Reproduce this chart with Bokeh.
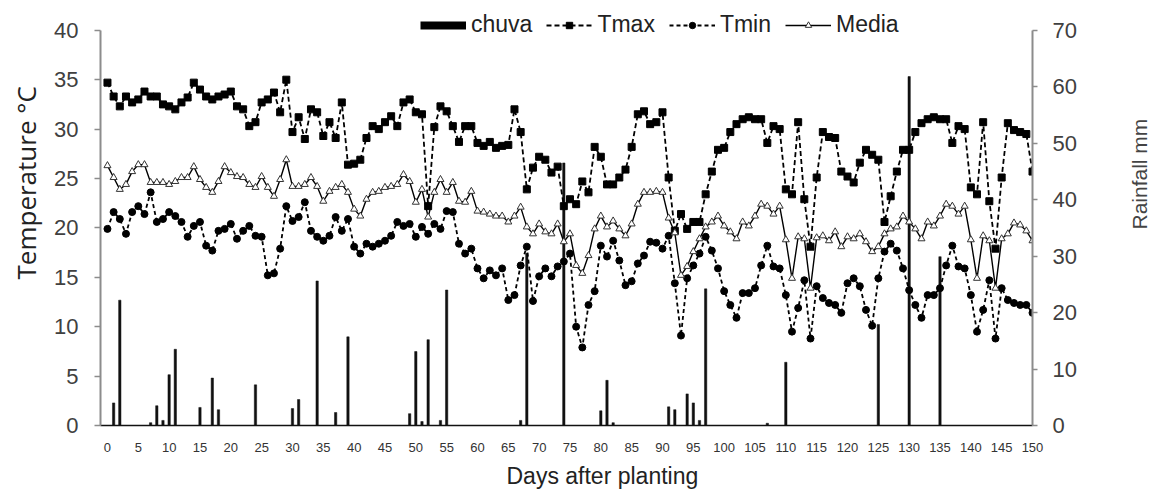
from bokeh.plotting import figure
from bokeh.layouts import row
from bokeh.models import (Range1d, LinearAxis, FixedTicker, Legend, LegendItem,
                          Title)
from bokeh.embed import file_html
from bokeh.resources import INLINE

# ---------------- data ----------------
days = list(range(151))

tmax = [34.7, 33.3, 32.3, 33.3, 32.7, 33.0, 33.8, 33.3, 33.3, 32.5,
        32.3, 32.0, 32.7, 33.2, 34.7, 34.0, 33.3, 33.0, 33.3, 33.5,
        33.8, 32.3, 32.0, 30.3, 30.7, 32.7, 33.0, 33.7, 31.7, 35.0,
        29.7, 31.2, 29.0, 32.0, 31.7, 29.3, 30.7, 29.1, 32.7, 26.4,
        26.5, 26.9, 29.1, 30.3, 30.0, 30.7, 31.3, 30.3, 32.7, 33.0,
        31.7, 31.5, 22.2, 30.2, 32.3, 31.8, 30.3, 28.7, 30.3, 30.3,
        28.6, 28.3, 28.7, 28.1, 28.3, 28.4, 32.0, 29.7, 23.9, 26.1,
        27.2, 26.9, 25.6, 26.2, 22.2, 22.9, 22.4, 24.7, 23.6, 28.2,
        27.2, 24.4, 24.4, 25.1, 25.9, 28.2, 31.5, 31.8, 30.5, 30.7,
        31.7, 25.1, 19.7, 21.4, 19.9, 20.6, 20.6, 23.4, 25.7, 27.9,
        28.1, 29.7, 30.5, 31.0, 31.2, 31.0, 31.0, 28.6, 30.3, 30.0,
        23.9, 23.4, 30.7, 22.9, 18.1, 25.1, 29.7, 29.2, 29.1, 25.7,
        25.2, 24.6, 26.6, 27.9, 27.4, 26.9, 20.6, 23.2, 25.7, 27.9,
        27.9, 29.7, 30.6, 31.0, 31.2, 31.0, 31.0, 28.6, 30.3, 30.0,
        24.1, 23.4, 30.7, 22.7, 17.9, 25.1, 30.6, 29.9, 29.7, 29.5,
        25.7]

tmin = [19.9, 21.6, 20.9, 19.4, 21.6, 22.2, 21.4, 23.6, 20.6, 20.9,
        21.6, 21.2, 20.6, 19.1, 20.2, 20.6, 18.2, 17.7, 19.7, 19.9,
        20.4, 18.9, 19.7, 20.2, 19.2, 19.1, 15.2, 15.4, 17.9, 22.2,
        20.7, 21.1, 22.6, 19.7, 19.1, 18.7, 19.2, 21.1, 19.7, 20.9,
        18.1, 17.4, 18.4, 18.1, 18.4, 18.7, 19.2, 20.6, 20.2, 20.4,
        19.1, 20.1, 19.4, 20.4, 19.9, 21.7, 21.6, 18.4, 17.4, 17.9,
        15.9, 14.9, 15.7, 15.2, 15.9, 12.7, 13.2, 16.2, 18.1, 12.6,
        15.1, 15.9, 15.1, 16.1, 16.6, 17.4, 10.0, 7.9, 12.2, 13.6,
        18.2, 17.1, 18.7, 16.7, 14.2, 14.6, 16.4, 17.2, 18.6, 18.5,
        17.9, 19.2, 14.4, 9.1, 14.9, 16.2, 17.4, 19.1, 17.7, 15.9,
        13.6, 12.2, 10.9, 13.4, 13.4, 13.9, 16.2, 18.2, 16.1, 15.9,
        13.2, 9.5, 11.9, 14.7, 8.8, 14.1, 12.9, 12.4, 12.2, 11.4,
        14.4, 14.9, 14.1, 11.7, 10.1, 14.9, 17.6, 18.4, 17.7, 15.9,
        13.7, 12.2, 10.9, 13.2, 13.2, 13.9, 16.2, 18.2, 16.1, 15.9,
        13.2, 9.5, 11.7, 14.7, 8.8, 13.9, 12.7, 12.4, 12.2, 12.2,
        11.4]

media = [26.3, 25.1, 23.9, 24.4, 25.7, 26.4, 26.4, 24.6, 24.6, 24.6,
         24.4, 24.7, 25.1, 25.1, 26.2, 24.9, 24.1, 23.6, 24.7, 26.2,
         25.6, 25.2, 25.1, 24.4, 24.1, 25.2, 24.1, 23.2, 24.9, 26.9,
         24.2, 24.2, 24.4, 25.1, 24.2, 22.7, 23.7, 24.1, 24.4, 23.6,
         21.9, 21.2, 22.9, 23.6, 23.7, 24.1, 24.2, 24.4, 25.4, 24.7,
         22.6, 23.9, 21.1, 23.6, 24.9, 23.6, 24.6, 22.7, 22.6, 23.7,
         21.7, 21.6, 21.4, 21.2, 21.2, 20.6, 21.2, 22.1, 20.1, 19.4,
         20.4, 19.6, 19.4, 20.4, 18.6, 19.4, 16.2, 15.4, 17.2, 19.9,
         21.2, 20.1, 20.7, 19.9, 19.2, 20.4, 22.4, 23.6, 23.6, 23.7,
         23.6, 21.0, 19.5, 15.2, 16.1, 17.6, 18.9, 20.1, 20.6, 21.2,
         20.2, 19.6, 18.9, 20.6, 20.2, 21.2, 22.4, 22.2, 21.4, 22.2,
         18.8, 14.9, 19.1, 18.9, 13.9, 19.0, 19.2, 18.7, 19.6, 18.1,
         19.1, 18.9, 19.4, 18.6, 17.6, 18.1, 19.4, 19.9, 20.1, 21.2,
         20.6, 19.9, 18.9, 20.6, 20.2, 21.2, 22.4, 22.2, 21.4, 22.2,
         18.8, 14.9, 19.2, 18.7, 13.9, 18.9, 19.4, 20.5, 20.3, 19.7,
         18.7]

rain_days = [1, 2, 7, 8, 9, 10, 11, 15, 17, 18, 24, 30, 31, 34, 37, 39,
             49, 50, 51, 52, 54, 55, 67, 68, 74, 80, 81, 82, 91, 92, 94,
             95, 96, 97, 107, 110, 125, 130, 135]
rain_mm = [4.0, 22.2, 0.5, 3.5, 0.9, 9.0, 13.5, 3.2, 8.4, 2.8, 7.2, 3.0,
           4.6, 25.6, 2.3, 15.7, 2.1, 13.1, 0.7, 15.2, 0.9, 24.0, 0.9,
           30.5, 46.5, 2.6, 8.0, 0.5, 3.3, 2.8, 5.6, 4.0, 0.9, 24.2, 0.4,
           11.2, 17.9, 61.8, 29.9]

temp_ticks = [0, 5, 10, 15, 20, 25, 30, 35, 40]
rain_ticks = [0, 10, 20, 30, 40, 50, 60, 70]
day_ticks = list(range(0, 151, 5))

# frame spans 428 px; the 0-40 axis occupies the lower 398 px of it,
# the strip above holds the legend
TOP_T = 40 * 428 / 398
TOP_R = 70 * 428 / 398
NAN = float("nan")

# ---------------- main figure ----------------
p = figure(width=1092, height=494, output_backend="svg", toolbar_location=None,
           x_range=Range1d(-1.13, 150), y_range=Range1d(0, TOP_T),
           min_border_left=100, min_border_right=60,
           min_border_top=0, min_border_bottom=66)
p.extra_y_ranges = {"rain": Range1d(0, TOP_R)}
p.xgrid.visible = False
p.ygrid.visible = False
p.outline_line_color = None
p.background_fill_color = "white"

bars = p.vbar(x=rain_days, top=rain_mm, width=0.38, y_range_name="rain",
              fill_color="#111111", line_color="#111111", line_width=0.5)

tmax_line = p.line(days, tmax, line_dash="5 3", line_width=1.8, color="black")
tmax_pts = p.scatter(days, tmax, marker="square", size=7, color="black")

tmin_line = p.line(days, tmin, line_dash="4 3", line_width=1.8, color="black")
tmin_pts = p.scatter(days, tmin, marker="circle", size=7, color="black")

media_line = p.line(days, media, line_width=1.4, color="black")
media_pts = p.scatter(days, media, marker="triangle", size=7,
                      fill_color="white", line_color="#333333", line_width=1)

# legend key for rainfall (draws nothing in the plot area)
chuva_key = p.line(x=[NAN], y=[NAN], line_width=8, color="black")

# ---------------- axes ----------------
yl = p.yaxis[0]
yl.bounds = (0, 40)
yl.ticker = FixedTicker(ticks=temp_ticks)
yl.major_label_text_font = "Liberation Sans"
yl.major_label_text_font_size = "22px"
yl.major_label_text_color = "#404040"
yl.axis_line_color = "#8c8c8c"
yl.axis_line_width = 2
yl.major_tick_line_color = "#8c8c8c"
yl.major_tick_line_width = 1.5
yl.major_tick_out = 6
yl.major_tick_in = 0
yl.minor_tick_line_color = None
yl.major_label_standoff = 16

yr = LinearAxis(y_range_name="rain", ticker=FixedTicker(ticks=rain_ticks),
                bounds=(0, 70))
yr.major_label_text_font = "Liberation Sans"
yr.major_label_text_font_size = "22px"
yr.major_label_text_color = "#404040"
yr.axis_line_color = "#8c8c8c"
yr.axis_line_width = 2
yr.major_tick_line_color = "#8c8c8c"
yr.major_tick_line_width = 1.5
yr.major_tick_out = 5
yr.major_tick_in = 0
yr.minor_tick_line_color = None
yr.major_label_standoff = 15
p.add_layout(yr, "right")

xa = p.xaxis[0]
xa.ticker = FixedTicker(ticks=day_ticks)
xa.major_label_text_font = "Liberation Sans"
xa.major_label_text_font_size = "13px"
xa.major_label_text_color = "#333333"
xa.axis_line_color = "#111111"
xa.axis_line_width = 1.5
xa.major_tick_line_color = None
xa.minor_tick_line_color = None
xa.major_label_standoff = 11

# axis titles as side-panel titles (can be offset along the axis)
p.add_layout(Title(text="Temperature °C", align="left", offset=146,
                   vertical_align="top", standoff=12,
                   text_font="Open Sans", text_font_size="26px",
                   text_font_style="normal", text_color="#222222"), "left")
p.add_layout(Title(text="Days after planting", align="left", offset=406,
                   vertical_align="bottom", standoff=12,
                   text_font="Liberation Sans", text_font_size="23px",
                   text_font_style="normal", text_color="#222222"), "below")

# legend in the strip above the 40 °C line
legend = Legend(items=[
    LegendItem(label="chuva", renderers=[chuva_key]),
    LegendItem(label="Tmax", renderers=[tmax_line, tmax_pts]),
    LegendItem(label="Tmin", renderers=[tmin_line, tmin_pts]),
    LegendItem(label="Media", renderers=[media_line, media_pts]),
], orientation="horizontal", location=(320, 387),
    glyph_width=46, glyph_height=16, label_standoff=5, spacing=14,
    padding=0, margin=0, border_line_color=None, background_fill_alpha=0,
    label_text_font="Liberation Sans", label_text_font_size="23px",
    label_text_color="#222222")
p.add_layout(legend)

# ---------------- right-hand title strip ----------------
p2 = figure(width=60, height=494, output_backend="svg", toolbar_location=None,
            x_axis_type=None, y_axis_type=None,
            min_border_left=58, min_border_right=0,
            min_border_top=0, min_border_bottom=66,
            x_range=Range1d(0, 1), y_range=Range1d(0, 1))
p2.xgrid.visible = False
p2.ygrid.visible = False
p2.outline_line_color = None
p2.add_layout(Title(text="Rainfall mm", align="left", offset=196,
                    vertical_align="bottom", standoff=0,
                    text_font="Liberation Sans", text_font_size="21px",
                    text_font_style="normal", text_color="#444444"), "left")

layout = row(p, p2)
open("out.html", "w").write(file_html(layout, INLINE))
